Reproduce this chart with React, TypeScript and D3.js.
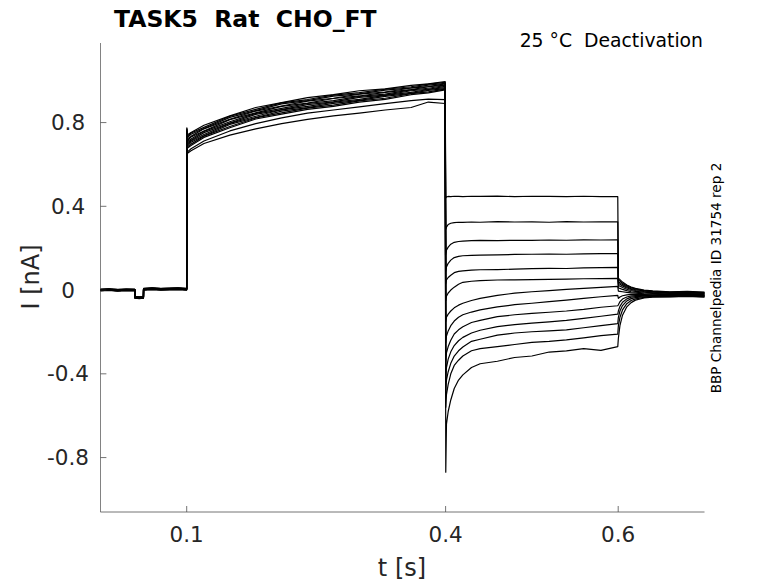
import * as d3 from "d3"

// time bases (s) for the four protocol segments
const tPre = [0, 0.01, 0.02, 0.03, 0.0399, 0.04, 0.045, 0.0499, 0.05, 0.06, 0.07, 0.08, 0.09, 0.0999]
const tPulse = [0.1002, 0.101, 0.105, 0.12, 0.15, 0.18, 0.21, 0.24, 0.27, 0.3, 0.33, 0.36, 0.38, 0.3995]
const tStep = [0.4002, 0.401, 0.403, 0.406, 0.41, 0.415, 0.42, 0.43, 0.44, 0.46, 0.48, 0.5, 0.52, 0.54, 0.56, 0.58, 0.5995]
const tTail = [0.6002, 0.602, 0.605, 0.61, 0.615, 0.62, 0.63, 0.64, 0.66, 0.68, 0.7]

// holding current before the pulse (nA), shared by all sweeps, plus small per-sweep offsets
const iPre = [0.0, 0.002, -0.001, 0.001, 0.0, -0.035, -0.037, -0.035, 0.004, 0.006, 0.004, 0.005, 0.006, 0.004]
const preOffset = [0.003, -0.002, 0.001, 0.004, -0.003, 0.0, 0.002, -0.001, 0.003, -0.004, 0.001, -0.002, 0.002]

// activating pulse (nA), one row per sweep
const iPulse = [
  [0.775, 0.742, 0.753, 0.787, 0.832, 0.872, 0.895, 0.919, 0.933, 0.952, 0.961, 0.978, 0.985, 0.996],
  [0.76, 0.723, 0.734, 0.77, 0.816, 0.855, 0.879, 0.902, 0.916, 0.936, 0.946, 0.965, 0.972, 0.985],
  [0.77, 0.735, 0.75, 0.777, 0.83, 0.863, 0.894, 0.91, 0.931, 0.943, 0.959, 0.971, 0.984, 0.992],
  [0.75, 0.71, 0.722, 0.758, 0.804, 0.844, 0.868, 0.891, 0.905, 0.925, 0.936, 0.956, 0.964, 0.977],
  [0.765, 0.73, 0.744, 0.772, 0.825, 0.857, 0.889, 0.905, 0.926, 0.937, 0.955, 0.966, 0.979, 0.987],
  [0.74, 0.697, 0.712, 0.743, 0.796, 0.83, 0.861, 0.877, 0.897, 0.911, 0.93, 0.944, 0.958, 0.967],
  [0.7, 0.653, 0.665, 0.7, 0.74, 0.77, 0.795, 0.815, 0.832, 0.845, 0.86, 0.872, 0.898, 0.891],
  [0.755, 0.715, 0.731, 0.76, 0.814, 0.846, 0.877, 0.893, 0.915, 0.927, 0.944, 0.957, 0.971, 0.979],
  [0.72, 0.684, 0.697, 0.735, 0.781, 0.822, 0.846, 0.869, 0.883, 0.904, 0.916, 0.938, 0.947, 0.96],
  [0.705, 0.66, 0.675, 0.712, 0.76, 0.795, 0.822, 0.845, 0.86, 0.875, 0.89, 0.905, 0.912, 0.91],
  [0.745, 0.704, 0.715, 0.752, 0.798, 0.839, 0.862, 0.886, 0.899, 0.92, 0.931, 0.952, 0.959, 0.973],
  [0.715, 0.678, 0.69, 0.729, 0.775, 0.817, 0.84, 0.863, 0.877, 0.898, 0.911, 0.933, 0.942, 0.956],
  [0.73, 0.689, 0.706, 0.737, 0.791, 0.824, 0.855, 0.871, 0.892, 0.906, 0.925, 0.939, 0.954, 0.962],
]

// deactivation steps (nA)
const iStep = [
  [0.44, 0.445, 0.447, 0.446, 0.448, 0.447, 0.446, 0.448, 0.447, 0.449, 0.446, 0.448, 0.447, 0.446, 0.448, 0.446, 0.446],
  [0.29, 0.3, 0.313, 0.319, 0.322, 0.324, 0.323, 0.325, 0.324, 0.327, 0.325, 0.326, 0.324, 0.327, 0.325, 0.326, 0.326],
  [0.17, 0.19, 0.205, 0.219, 0.228, 0.232, 0.234, 0.236, 0.237, 0.236, 0.238, 0.237, 0.239, 0.238, 0.24, 0.239, 0.24],
  [0.09, 0.11, 0.128, 0.143, 0.155, 0.161, 0.164, 0.166, 0.167, 0.168, 0.17, 0.171, 0.172, 0.171, 0.173, 0.174, 0.174],
  [0.03, 0.048, 0.06, 0.071, 0.083, 0.089, 0.092, 0.095, 0.097, 0.098, 0.1, 0.102, 0.104, 0.103, 0.106, 0.107, 0.108],
  [-0.05, -0.03, -0.014, 0.0, 0.014, 0.028, 0.037, 0.042, 0.045, 0.048, 0.049, 0.05, 0.051, 0.052, 0.054, 0.055, 0.056],
  [-0.15, -0.13, -0.115, -0.1, -0.085, -0.072, -0.063, -0.05, -0.04, -0.025, -0.015, -0.008, -0.003, 0.003, 0.008, 0.013, 0.018],
  [-0.25, -0.22, -0.195, -0.17, -0.148, -0.13, -0.118, -0.105, -0.095, -0.08, -0.07, -0.063, -0.055, -0.048, -0.04, -0.032, -0.025],
  [-0.34, -0.3, -0.27, -0.24, -0.21, -0.19, -0.175, -0.155, -0.145, -0.127, -0.118, -0.111, -0.106, -0.1, -0.092, -0.082, -0.075],
  [-0.42, -0.37, -0.33, -0.295, -0.265, -0.242, -0.226, -0.205, -0.192, -0.175, -0.165, -0.158, -0.152, -0.145, -0.135, -0.125, -0.115],
  [-0.48, -0.43, -0.39, -0.35, -0.315, -0.29, -0.272, -0.245, -0.235, -0.215, -0.205, -0.199, -0.195, -0.19, -0.18, -0.17, -0.16],
  [-0.56, -0.5, -0.45, -0.4, -0.36, -0.335, -0.315, -0.29, -0.28, -0.27, -0.26, -0.25, -0.245, -0.238, -0.228, -0.218, -0.21],
  [-0.87, -0.64, -0.58, -0.525, -0.47, -0.43, -0.405, -0.37, -0.352, -0.34, -0.322, -0.315, -0.296, -0.29, -0.28, -0.288, -0.27],
]

// tail currents after returning to holding (nA)
const iTail = [
  [0.056, 0.05, 0.038, 0.024, 0.014, 0.008, 0.0, -0.004, -0.008, -0.006, -0.01],
  [0.048, 0.043, 0.032, 0.02, 0.011, 0.005, -0.002, -0.006, -0.01, -0.009, -0.012],
  [0.04, 0.035, 0.026, 0.015, 0.007, 0.002, -0.004, -0.009, -0.012, -0.011, -0.014],
  [0.032, 0.028, 0.02, 0.01, 0.003, -0.002, -0.007, -0.01, -0.014, -0.013, -0.016],
  [0.022, 0.019, 0.012, 0.004, -0.002, -0.006, -0.01, -0.013, -0.016, -0.017, -0.018],
  [0.01, 0.008, 0.003, -0.003, -0.008, -0.01, -0.014, -0.016, -0.019, -0.02, -0.02],
  [-0.005, -0.006, -0.008, -0.011, -0.013, -0.015, -0.018, -0.02, -0.022, -0.021, -0.023],
  [-0.04, -0.033, -0.027, -0.023, -0.021, -0.021, -0.022, -0.023, -0.023, -0.022, -0.024],
  [-0.07, -0.056, -0.043, -0.033, -0.028, -0.027, -0.026, -0.026, -0.025, -0.024, -0.026],
  [-0.1, -0.078, -0.058, -0.042, -0.034, -0.031, -0.029, -0.028, -0.027, -0.026, -0.028],
  [-0.13, -0.1, -0.074, -0.052, -0.041, -0.036, -0.032, -0.03, -0.029, -0.028, -0.03],
  [-0.17, -0.13, -0.095, -0.065, -0.05, -0.042, -0.035, -0.032, -0.031, -0.029, -0.032],
  [-0.23, -0.17, -0.12, -0.08, -0.06, -0.048, -0.038, -0.034, -0.033, -0.03, -0.034],
]

const xTicks = [0.1, 0.4, 0.6]
const xTickLabels = ["0.1", "0.4", "0.6"]
const yTicks = [-0.8, -0.4, 0, 0.4, 0.8]
const yTickLabels = ["-0.8", "-0.4", "0", "0.4", "0.8"]

const W = 778
const H = 583
const FONT = "DejaVu Sans, sans-serif"
const AXIS = "#262626"

export default function App() {
  const x = d3.scaleLinear().domain([0, 0.7]).range([100.4, 704.5])
  const y = d3.scaleLinear().domain([-1.06, 1.18]).range([512, 43])

  const line = d3
    .line<[number, number]>()
    .x((d) => x(d[0]))
    .y((d) => y(d[1]))

  // glue the segments of each sweep together
  const sweeps = iPulse.map((_, k) => {
    const pts: [number, number][] = []
    tPre.forEach((t, i) => pts.push([t, iPre[i] + preOffset[k]]))
    tPulse.forEach((t, i) => pts.push([t, iPulse[k][i]]))
    tStep.forEach((t, i) => pts.push([t, iStep[k][i]]))
    tTail.forEach((t, i) => pts.push([t, iTail[k][i]]))
    return pts
  })

  const [x0, x1] = x.range()
  const [y0, y1] = y.range()

  return (
    <svg width={W} height={H} style={{ position: "absolute", left: 0, top: 0, background: "#fff" }} fontFamily={FONT}>
      <rect width={W} height={H} fill="#fff" />

      {/* traces */}
      <g fill="none" stroke="#000" strokeWidth={1.2} strokeLinejoin="round">
        {sweeps.map((s, i) => (
          <path key={i} d={line(s) || ""} />
        ))}
      </g>

      {/* axes */}
      <g stroke={AXIS} strokeWidth={0.8} fill="none" opacity={0.8}>
        <line x1={x0} y1={y0} x2={x1} y2={y0} />
        <line x1={x0} y1={y0} x2={x0} y2={y1} />
        {xTicks.map((t) => (
          <line key={t} x1={x(t)} x2={x(t)} y1={y0} y2={y0 - 6} />
        ))}
        {yTicks.map((t) => (
          <line key={t} x1={x0} x2={x0 + 6} y1={y(t)} y2={y(t)} />
        ))}
      </g>

      <g fill={AXIS} fontSize={21.5} textAnchor="middle">
        {xTicks.map((t, i) => (
          <text key={t} x={x(t)} y={542}>
            {xTickLabels[i]}
          </text>
        ))}
        {yTicks.map((t, i) => (
          <text key={t} x={68} y={y(t) + 7.5}>
            {yTickLabels[i]}
          </text>
        ))}
      </g>

      <text x={402} y={576} fontSize={24} textAnchor="middle" fill={AXIS}>
        t [s]
      </text>
      <text transform="translate(39,277) rotate(-90)" fontSize={24} textAnchor="middle" fill={AXIS}>
        I [nA]
      </text>

      <text x={114} y={27} fontSize={23.5} fontWeight="bold" fill="#000" style={{ whiteSpace: "pre" }}>
        {"TASK5  Rat  CHO_FT"}
      </text>
      <text x={703} y={47} fontSize={18.8} textAnchor="end" fill="#000" style={{ whiteSpace: "pre" }}>
        {"25 °C  Deactivation"}
      </text>
      <text transform="translate(721,278) rotate(-90)" fontSize={13.6} textAnchor="middle" fill="#000">
        BBP Channelpedia ID 31754 rep 2
      </text>
    </svg>
  )
}
